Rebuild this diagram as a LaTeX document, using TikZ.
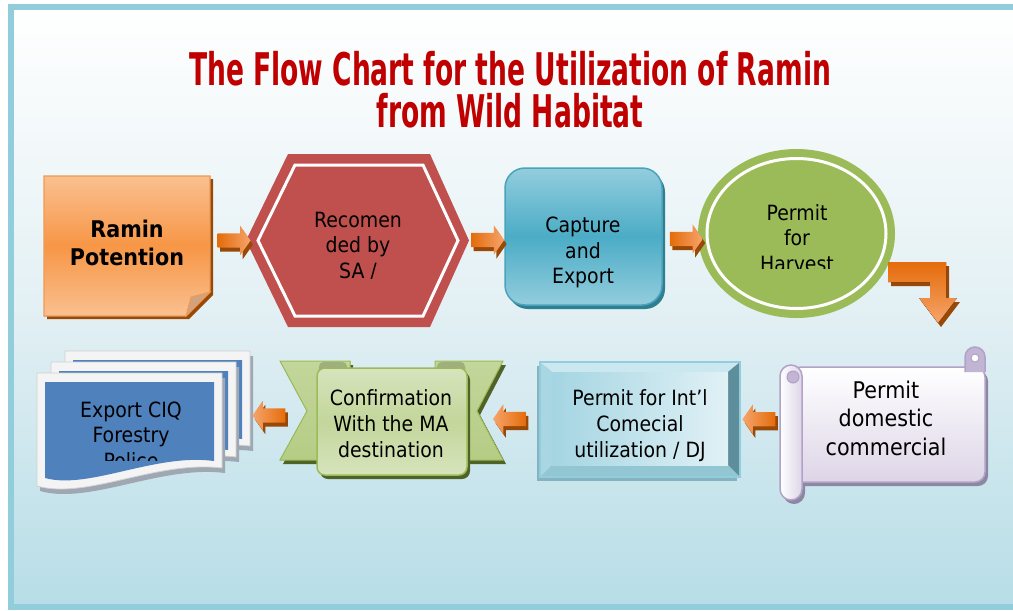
\documentclass[tikz,border=0pt]{standalone}
\usepackage{fontspec}
\setmainfont[FakeStretch=0.9]{DejaVu Sans}
\newfontfamily\titlefont[FakeStretch=0.59]{DejaVu Sans}
\usetikzlibrary{shapes.geometric,shapes.arrows,shadows,calc}
\definecolor{framecol}{HTML}{92CDDC}
\definecolor{bgblue}{HTML}{B7DDE7}
\definecolor{bgmid}{HTML}{E3F0F4}
\definecolor{titlered}{HTML}{C00000}
\definecolor{notelight}{HTML}{FAC090}
\definecolor{notemid}{HTML}{F79646}
\definecolor{notebrown}{HTML}{984807}
\definecolor{noteedge}{HTML}{EE9A55}
\definecolor{notefold}{HTML}{D2A27C}
\definecolor{hexred}{HTML}{C0504D}
\definecolor{caplight}{HTML}{93CDDD}
\definecolor{capmid}{HTML}{4BACC6}
\definecolor{capedge}{HTML}{4AA3BB}
\definecolor{capshadow}{HTML}{2F7F93}
\definecolor{hgreen}{HTML}{9BBB59}
\definecolor{arrdark}{HTML}{E46C0A}
\definecolor{arrlight}{HTML}{F6A46B}
\definecolor{arrbrown}{HTML}{984807}
\definecolor{scredge}{HTML}{B3A2C7}
\definecolor{scrbottom}{HTML}{DDD5E7}
\definecolor{scrcurl}{HTML}{C1B5D3}
\definecolor{scrshadow}{HTML}{8C88A3}
\definecolor{bevtop}{HTML}{CBE7EF}
\definecolor{bevleft}{HTML}{A8D6E2}
\definecolor{bevright}{HTML}{5E8E9B}
\definecolor{bevbottom}{HTML}{93C6D3}
\definecolor{bevfaceA}{HTML}{A4D5E2}
\definecolor{bevfaceB}{HTML}{E1F1F6}
\definecolor{bevshadow}{HTML}{86B3C2}
\definecolor{ribedge}{HTML}{9BBB59}
\definecolor{riblight}{HTML}{D7E4BD}
\definecolor{ribmid}{HTML}{C3D69B}
\definecolor{ribtail}{HTML}{B5CC85}
\definecolor{ribfold}{HTML}{9FAF80}
\definecolor{ribshadow}{HTML}{4F6228}
\definecolor{docblue}{HTML}{4F81BD}
\definecolor{docwhite}{HTML}{F4F4F4}
\definecolor{docedge}{HTML}{D0D0D0}
\definecolor{docshadow}{HTML}{9EA7B2}
\tikzset{
  shapebox/.style={inner sep=0pt, outer sep=0pt, draw=none},
  txt/.style={align=center, inner sep=0pt, text=black, font=\fontsize{21}{25.5}\selectfont},
  titletxt/.style={anchor=base, inner sep=0pt, text=titlered, font=\titlefont\bfseries\fontsize{45}{45}\selectfont},
  arrR/.style={single arrow, minimum height=33pt, minimum width=29pt,
    single arrow head extend=7.5pt, single arrow tip angle=110,
    inner xsep=0pt, inner ysep=7pt, outer sep=0pt,
    drop shadow={shadow xshift=2.5pt, shadow yshift=-4pt, fill=arrbrown, opacity=1},
    left color=arrdark, right color=arrlight},
  arrL/.style={arrR, shape border rotate=180, left color=arrlight, right color=arrdark},
  pics/docpage/.style={code={
    \fill[docshadow] (3,5) -- (188,5) -- (188,100) .. controls (123,92) and (53,132) .. (3,118) -- cycle;
    \filldraw[fill=docwhite, draw=docedge, line width=0.8pt] (0,0) -- (185,0) -- (185,95) .. controls (120,87) and (50,127) .. (0,113) -- cycle;
    \fill[docblue] (8,9) -- (177,9) -- (177,88) .. controls (118,80) and (52,117) .. (8,105) -- cycle;
  }}
}
\begin{document}
\begin{tikzpicture}[x=1pt, y=-1pt]
\useasboundingbox (0,0) rectangle (1013,611);
% background and frame
\fill[top color=white, bottom color=bgblue, middle color=bgmid] (11,7) rectangle (1030,607);
\draw[line width=6pt, framecol] (11,7) rectangle (1030,607);
% title
\node[titletxt] (title1) at (510,85) {The Flow Chart for the Utilization of Ramin};
\node[titletxt] (title2) at (510,127) {from Wild Habitat};

% ---- Ramin Potention (note)
\fill[notebrown] (47,179) -- (213,179) -- (213,295) -- (189,319) -- (47,319) -- cycle;
\filldraw[draw=noteedge, line width=1.2pt, top color=notelight, bottom color=notelight, middle color=notemid] (44,176) -- (210,176) -- (210,292) -- (186,316) -- (44,316) -- cycle;
\filldraw[fill=notefold, draw=noteedge, line width=0.8pt] (210,292) -- (191,297) -- (186,316) -- cycle;
\node[shapebox, minimum width=166pt, minimum height=140pt] (ramin) at (127,246) {};

% ---- Recomended (hexagon)
\fill[hexred] (246,240.5) -- (288,154) -- (430,154) -- (469,240.5) -- (430,327) -- (288,327) -- cycle;
\draw[white, line width=3pt] (258,240.5) -- (295,165) -- (423,165) -- (458,240.5) -- (423,316) -- (295,316) -- cycle;
\node[shapebox, minimum width=223pt, minimum height=173pt] (recom) at (357.5,240.5) {};

% ---- Capture and Export
\node[draw=capedge, line width=1.5pt, rounded corners=20pt, minimum width=157pt, minimum height=137pt,
  top color=caplight, bottom color=caplight, middle color=capmid,
  drop shadow={shadow xshift=3pt, shadow yshift=-4pt, fill=capshadow, opacity=1}] (capture) at (583.5,236.5) {};

% ---- Permit for Harvest
\node[ellipse, fill=hgreen, minimum width=197pt, minimum height=169pt, inner sep=0pt] (harvest) at (796.5,233.5) {};
\draw[white, line width=3pt] (harvest.center) ellipse [x radius=89.5, y radius=75];

% ---- bent arrow harvest -> domestic
\fill[arrbrown] (891,266) -- (949,266) -- (949,302) -- (960,302) -- (941,327) -- (922,302) -- (933,302) -- (933,286) -- (891,286) -- cycle;
\fill[top color=arrdark, bottom color=arrlight] (888,262) -- (946,262) -- (946,298) -- (957,298) -- (938,323) -- (919,298) -- (930,298) -- (930,282) -- (888,282) -- cycle;

% ---- Permit domestic commercial (scroll)
\fill[scrshadow, rounded corners=10pt] (794,371) rectangle (988,486);
\fill[scrshadow, rounded corners=11pt] (783,369) rectangle (805,504);
\filldraw[draw=scredge, line width=1.5pt, top color=white, bottom color=scrbottom, rounded corners=10pt] (791,367) rectangle (985,482);
\filldraw[draw=scredge, line width=1.5pt, fill=scrcurl, rounded corners=10pt] (965,372) -- (965,347) -- (985,347) -- (985,372);
\filldraw[draw=scredge, line width=1pt, fill=white] (975,358) circle (4);
\filldraw[draw=scredge, line width=1.5pt, left color=white, right color=scrbottom, rounded corners=11pt] (780,365) rectangle (802,500);
\filldraw[draw=scredge, line width=1pt, fill=scrcurl] (793,377) circle (6);
\node[shapebox, minimum width=205pt, minimum height=152pt] (domestic) at (882.5,424) {};

% ---- Permit for Int'l (bevel)
\fill[bevshadow] (537,366) rectangle (737,481);
\fill[bevtop] (540,362) -- (740,362) -- (728,372) -- (552,372) -- cycle;
\fill[bevright] (740,362) -- (740,477) -- (728,465) -- (728,372) -- cycle;
\fill[bevbottom] (540,477) -- (740,477) -- (728,465) -- (552,465) -- cycle;
\fill[bevleft] (540,362) -- (552,372) -- (552,465) -- (540,477) -- cycle;
\fill[shading angle=45, left color=bevfaceA, right color=bevfaceB] (552,372) rectangle (728,465);
\draw[framecol, line width=1.5pt] (540,362) rectangle (740,477);
\node[shapebox, minimum width=200pt, minimum height=115pt] (intl) at (640,419.5) {};

% ---- Confirmation (ribbon)
\fill[ribshadow] (283,365) -- (353,365) -- (353,464) -- (283,464) -- (310,415) -- cycle;
\fill[ribshadow] (506,365) -- (438,365) -- (438,464) -- (506,464) -- (480,415) -- cycle;
\filldraw[draw=ribedge, line width=1pt, top color=ribmid, bottom color=ribtail] (280,361) -- (350,361) -- (350,460) -- (280,460) -- (307,411) -- cycle;
\filldraw[draw=ribedge, line width=1pt, top color=ribmid, bottom color=ribtail] (503,361) -- (435,361) -- (435,460) -- (503,460) -- (477,411) -- cycle;
\filldraw[fill=ribfold, draw=ribedge, rounded corners=5pt] (319,362) rectangle (347,380);
\filldraw[fill=ribfold, draw=ribedge, rounded corners=5pt] (437,362) rectangle (465,380);
\fill[ribshadow, rounded corners=8pt] (320,372) rectangle (470,479);
\filldraw[draw=ribedge, line width=1.5pt, top color=riblight, bottom color=riblight, middle color=ribmid, rounded corners=8pt] (317,368) rectangle (467,475);
\node[shapebox, minimum width=223pt, minimum height=115pt] (confirm) at (391.5,418.5) {};

% ---- Export CIQ (multi-document)
\pic at (65,351) {docpage};
\pic at (51,362) {docpage};
\pic at (37,373) {docpage};
\node[shapebox, minimum width=213pt, minimum height=139pt] (export) at (143.5,420.5) {};

% ---- block arrows between steps
\node[arrR] (a1) at ($(ramin.east)!.5!(recom.west)+(3.5,-2.75)$) {};
\node[arrR] (a2) at ($(recom.east)!.5!(capture.west)+(-1.5,1.5)$) {};
\node[arrR] (a3) at ($(capture.east)!.5!(harvest.west)+(3.5,4)$) {};
\node[arrL] (a4) at ($(domestic.west)!.5!(intl.east)+(1.5,-2.5)$) {};
\node[arrL] (a5) at ($(intl.west)!.5!(confirm.east)+(-9.5,0)$) {};
\node[arrL] (a6) at ($(confirm.west)!.5!(export.east)+(6.5,-4)$) {};

% ---- texts
\node[txt, font=\bfseries\fontsize{23}{28}\selectfont] (ramintxt) at (127,245.4) {\strut Ramin\\\strut Potention};
\begin{scope}
\clip (246,150) rectangle (469,278.5);
\node[txt] (recomtxt) at (358,247.4) {\strut Recomen\\\strut ded by\\\strut SA /};
\end{scope}
\node[txt] (capturetxt) at (583,253) {\strut Capture\\\strut and\\\strut Export};
\begin{scope}
\clip (698,150) rectangle (895,268);
\node[txt] (harvesttxt) at (797,240.4) {\strut Permit\\\strut for\\\strut Harvest};
\end{scope}
\node[txt, font=\fontsize{23}{28.5}\selectfont] (domestictxt) at (886,420.8) {\strut Permit\\\strut domestic\\\strut commercial};
\node[txt, font=\fontsize{21}{26}\selectfont] (intltxt) at (640,425.8) {\strut Permit for Int’l\\\strut Comecial\\\strut utilization / DJ};
\node[txt, font=\fontsize{21}{26}\selectfont] (confirmtxt) at (391,425.8) {\strut Confirmation\\\strut With the MA\\\strut destination};
\begin{scope}
\clip (37,350) rectangle (250,460);
\node[txt] (exporttxt) at (131,437.4) {\strut Export CIQ\\\strut Forestry\\\strut Police};
\end{scope}
\end{tikzpicture}
\end{document}
